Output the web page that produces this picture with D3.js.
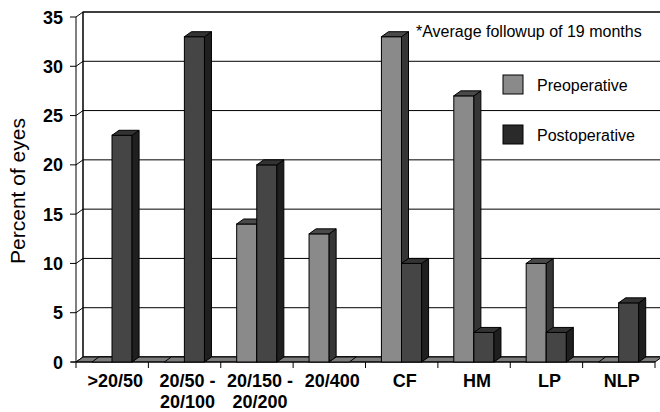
<!DOCTYPE html>
<html><head><meta charset="utf-8">
<script src="https://cdn.jsdelivr.net/npm/d3@7"></script>
<style>body{margin:0;background:#fff}svg{display:block}text{font-family:Arial,"Liberation Sans",sans-serif}</style>
</head><body><svg id="c" width="660" height="412"></svg>
<script>
const categories = [">20/50", "20/50 -|20/100", "20/150 -|20/200", "20/400", "CF", "HM", "LP", "NLP"];
const preoperative = [0, 0, 14, 13, 33, 27, 10, 0];
const postoperative = [23, 33, 20, 0, 10, 3, 3, 6];
const seriesNames = ["Preoperative", "Postoperative"];
const yTicks = [0, 5, 10, 15, 20, 25, 30, 35];
const note = "*Average followup of 19 months";
const yLabel = "Percent of eyes";

const svg = d3.select("#c");
const W = 660, H = 412;
const dx = 7, dy = -5;
const x = d3.scaleBand().domain(categories).range([76, 655]).paddingInner(0).paddingOuter(0);
const bw = x.bandwidth();
const x1 = d3.scaleBand().domain(seriesNames).range([bw * 0.22, bw * 0.775]).padding(0);
const y = d3.scaleLinear().domain([0, 35]).range([362, 17]);
const left = x.range()[0], right = x.range()[1];
const y0 = y(0), yTop = y(35);

const styles = {
  Preoperative: {front: "#8a8a8a", top: "#4a4a4a", side: "#363636"},
  Postoperative: {front: "#454545", top: "#333333", side: "#1f1f1f"}
};

// back wall
svg.append("rect").attr("x", left + dx).attr("y", yTop + dy).attr("width", W - left).attr("height", y0 - yTop)
  .attr("fill", "#fff").attr("stroke", "#000");
// gridlines on back wall and left wall
yTicks.forEach(t => {
  const yy = y(t);
  svg.append("line").attr("x1", left + dx).attr("x2", W + 5).attr("y1", yy + dy).attr("y2", yy + dy)
    .attr("stroke", "#000").attr("stroke-width", 1);
  svg.append("line").attr("x1", left).attr("x2", left + dx).attr("y1", yy).attr("y2", yy + dy)
    .attr("stroke", "#000");
  svg.append("line").attr("x1", left - 6).attr("x2", left).attr("y1", yy).attr("y2", yy).attr("stroke", "#000");
  svg.append("text").attr("x", 63).attr("y", yy + 6.5).attr("text-anchor", "end")
    .attr("font-size", 18).attr("font-weight", "bold").attr("fill", "#000").text(t);
});
// left wall edges
svg.append("line").attr("x1", left).attr("x2", left).attr("y1", yTop).attr("y2", y0).attr("stroke", "#000");
svg.append("line").attr("x1", left + dx).attr("x2", left + dx).attr("y1", yTop + dy).attr("y2", y0 + dy).attr("stroke", "#000");

// floor
svg.append("polygon").attr("points", [[left, y0], [right, y0], [right + dx, y0 + dy], [left + dx, y0 + dy]].map(p => p.join(",")).join(" "))
  .attr("fill", "#7c7c7c").attr("stroke", "#000");
svg.append("line").attr("x1", left - 5).attr("x2", right).attr("y1", y0).attr("y2", y0).attr("stroke", "#000");
categories.concat(["__end"]).forEach((c, i) => {
  const xx = i < categories.length ? x(c) : right;
  svg.append("line").attr("x1", xx).attr("x2", xx).attr("y1", y0).attr("y2", y0 + 6).attr("stroke", "#000");
});

const pts = a => a.map(p => p.join(",")).join(" ");
// bars
categories.forEach((c, i) => {
  [[seriesNames[0], preoperative[i]], [seriesNames[1], postoperative[i]]].forEach(([s, v]) => {
    const x0 = x(c) + x1(s), w = x1.bandwidth();
    const yv = y(v);
    const st = styles[s];
    const g = svg.append("g");
    if (v === 0) {
      g.append("polygon").attr("points", pts([[x0, y0], [x0 + w, y0], [x0 + w + dx, y0 + dy], [x0 + dx, y0 + dy]]))
        .attr("fill", "#7c7c7c").attr("stroke", "#000").attr("stroke-linejoin", "round");
      return;
    }
    g.append("rect").attr("x", x0).attr("y", yv).attr("width", w).attr("height", y0 - yv)
      .attr("fill", st.front).attr("stroke", "#000");
    g.append("polygon").attr("points", pts([[x0 + w, yv], [x0 + w + dx, yv + dy], [x0 + w + dx, y0 + dy], [x0 + w, y0]]))
      .attr("fill", st.side).attr("stroke", "#000").attr("stroke-linejoin", "round");
    g.append("polygon").attr("points", pts([[x0, yv], [x0 + w, yv], [x0 + w + dx, yv + dy], [x0 + dx, yv + dy]]))
      .attr("fill", st.top).attr("stroke", "#000").attr("stroke-linejoin", "round");
  });
  const lines = c.split("|");
  const t = svg.append("text").attr("text-anchor", "middle").attr("font-size", 18).attr("font-weight", "bold").attr("fill", "#000");
  lines.forEach((l, j) => {
    t.append("tspan").attr("x", x(c) + bw / 2 + 3).attr("y", 387 + j * 21).text(l);
  });
});

// y label
svg.append("text").attr("transform", "translate(25,191) rotate(-90)").attr("text-anchor", "middle")
  .attr("font-size", 21).attr("fill", "#000").text(yLabel);

// note
svg.append("text").attr("x", 416).attr("y", 37).attr("font-size", 16).attr("fill", "#000").text(note);

// legend
seriesNames.forEach((s, i) => {
  const ly = 75 + i * 50;
  svg.append("rect").attr("x", 503).attr("y", ly).attr("width", 20).attr("height", 19)
    .attr("fill", i === 0 ? "#8a8a8a" : "#2a2a2a").attr("stroke", "#000");
  svg.append("text").attr("x", 537).attr("y", ly + 16).attr("font-size", 16).attr("fill", "#000").text(s);
});
</script></body></html>
